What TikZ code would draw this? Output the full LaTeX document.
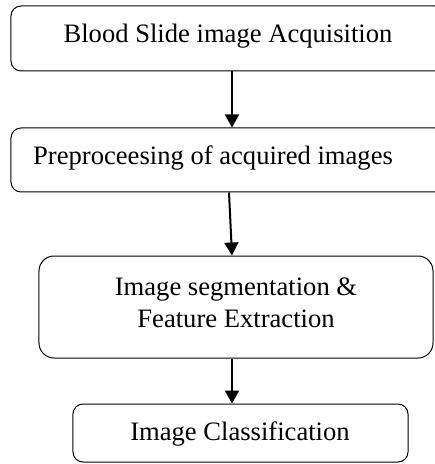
\documentclass[tikz,border=0pt]{standalone}
\usepackage{fontspec}
\setmainfont{Liberation Serif}
\usetikzlibrary{arrows.meta,calc}
\begin{document}
\begin{tikzpicture}[x=1bp,y=-1bp,
  box/.style={draw=black, line width=1bp, rounded corners=10bp, inner sep=0pt, font=\fontsize{26.7}{32}\selectfont},
  txt/.style={inner sep=0pt, align=center, font=\fontsize{26.7}{32}\selectfont},
  arr/.style={line width=2bp, -{Triangle[length=13bp,width=14bp]}}]
\useasboundingbox[clip] (0,0) rectangle (435,464);
\node[box, minimum width=434bp, minimum height=65bp] (b1) at (228,38.5) {};
\node[txt] (t1) at (228,36) {Blood Slide image Acquisition};
\node[box, minimum width=434bp, minimum height=64bp] (b2) at (228,160) {};
\node[txt, anchor=west] (t2) at (33,158) {Preproceesing of acquired images};
\node[box, rounded corners=15bp, minimum width=394bp, minimum height=102bp] (b3) at (236,307) {};
\node[txt] (t3) at (236,303) {Image segmentation \&\\Feature Extraction};
\node[box, minimum width=335bp, minimum height=58bp] (b4) at (240.5,433) {};
\node[txt] (t4) at (240,434) {Image Classification};
\coordinate (a1s) at (b1.south -| 232,0);
\coordinate (a1e) at (b2.north -| 232,0);
\coordinate (a2s) at (b2.south -| 229,0);
\coordinate (a2e) at (b3.north -| 232,0);
\coordinate (a3s) at (b3.south -| 232,0);
\coordinate (a3e) at (b4.north -| 232,0);
\draw[arr] (a1s) -- (a1e);
\draw[arr] (a2s) -- (a2e);
\draw[arr] (a3s) -- (a3e);
\end{tikzpicture}
\end{document}
